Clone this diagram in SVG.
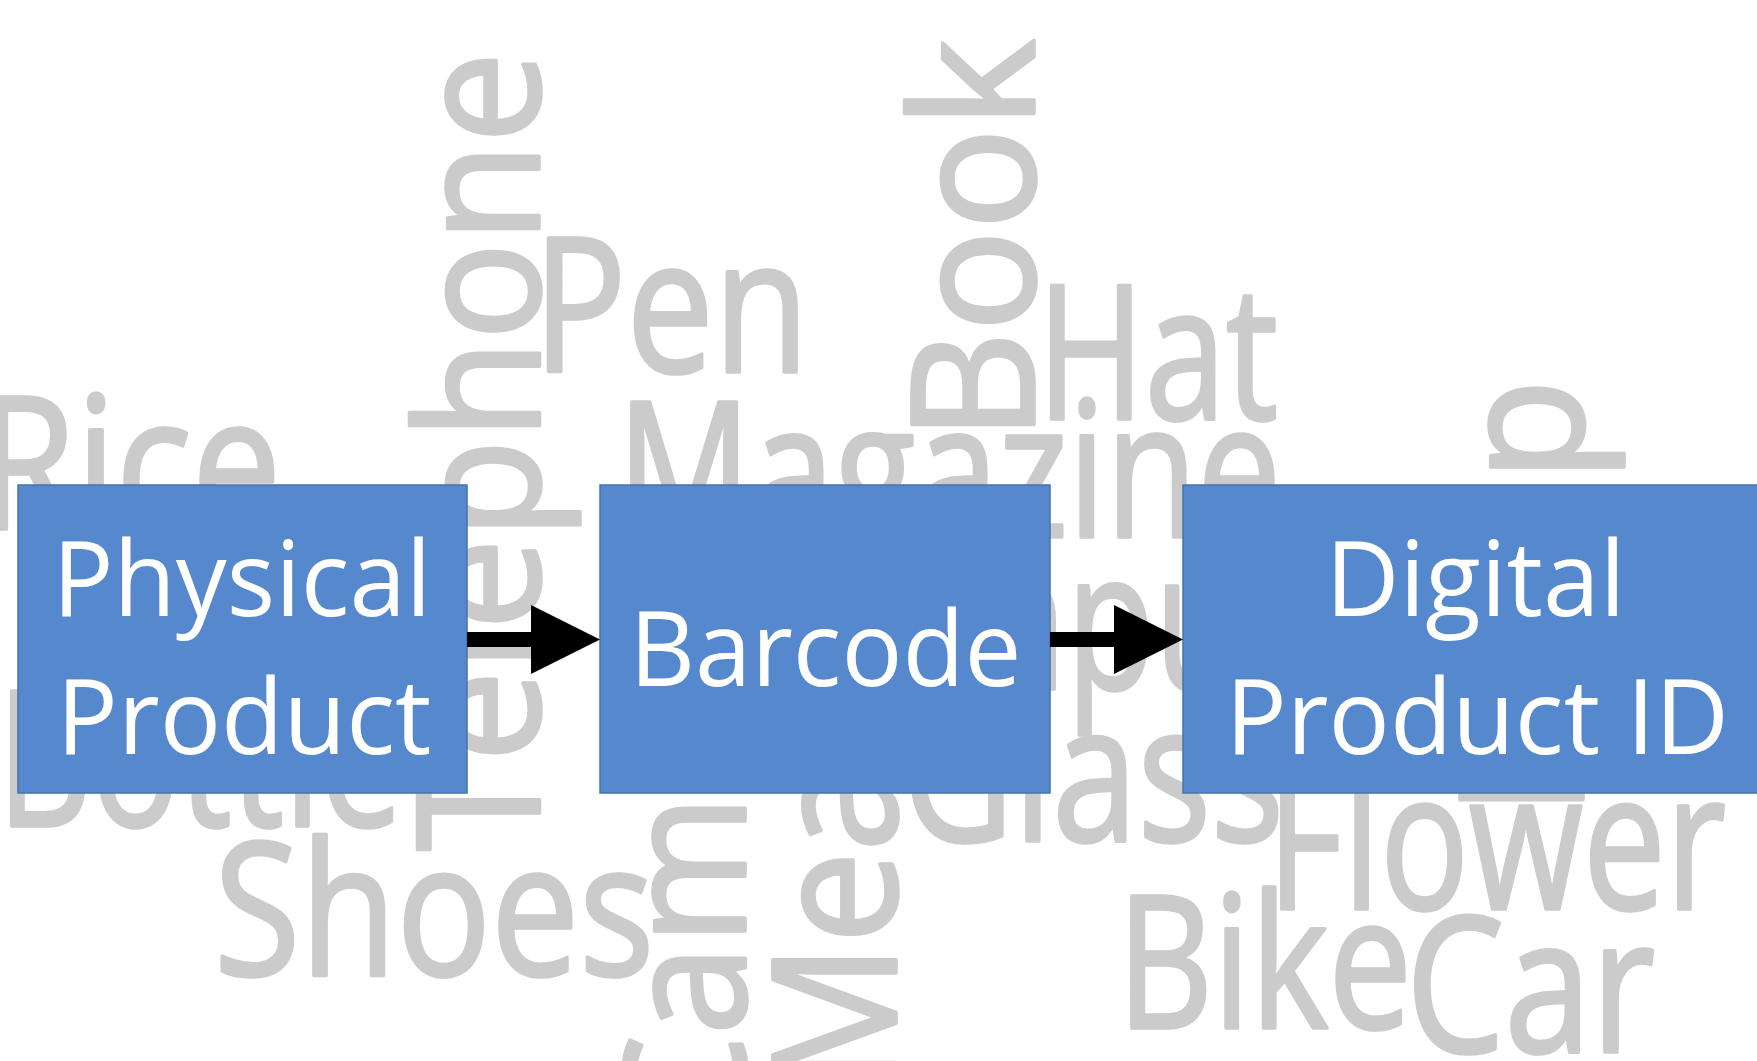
<svg xmlns="http://www.w3.org/2000/svg" width="1757" height="1061" viewBox="0 0 1757 1061">
<style>
.w{fill:#cbcbcb;stroke:#cbcbcb;stroke-width:3.5;stroke-linejoin:round;font-family:'Open Sans','Noto Sans','DejaVu Sans',sans-serif;}
.box{fill:#5588cc;stroke:#4673aa;stroke-width:1.5;}
.lbl{fill:#ffffff;font-family:'Open Sans','Noto Sans','DejaVu Sans',sans-serif;font-size:104px;}
.conn{stroke:#000;stroke-width:15;fill:none;marker-end:url(#ah);}
</style>
<defs>
<marker id="ah" markerUnits="userSpaceOnUse" markerWidth="69" markerHeight="69" viewBox="0 0 69 69" refX="0" refY="34.5" orient="auto">
<path d="M0,0 L69,34.5 L0,69 z" fill="#000"/>
</marker>
</defs>
<rect x="0" y="0" width="1757" height="1061" fill="#fff"/>
<g id="wordcloud">
<text class="w" x="-22" y="529" font-size="186" textLength="303" lengthAdjust="spacingAndGlyphs">Rice</text>
<text class="w" x="-3" y="826" font-size="188" textLength="406" lengthAdjust="spacingAndGlyphs">Bottle</text>
<text class="w" x="214" y="975" font-size="186" textLength="440" lengthAdjust="spacingAndGlyphs">Shoes</text>
<text class="w" x="533" y="372" font-size="187" textLength="276" lengthAdjust="spacingAndGlyphs">Pen</text>
<text class="w" x="617" y="537" font-size="188" textLength="664" lengthAdjust="spacingAndGlyphs">Magazine</text>
<text class="w" x="1037" y="419" font-size="187" textLength="241" lengthAdjust="spacingAndGlyphs">Hat</text>
<text class="w" x="755" y="689" font-size="192" textLength="680" lengthAdjust="spacingAndGlyphs">Computer</text>
<text class="w" x="902" y="841" font-size="192" textLength="382" lengthAdjust="spacingAndGlyphs">Glass</text>
<text class="w" x="1267" y="909" font-size="192" textLength="459" lengthAdjust="spacingAndGlyphs">Flower</text>
<text class="w" x="1117" y="1028" font-size="186" textLength="295" lengthAdjust="spacingAndGlyphs">Bike</text>
<text class="w" x="1406" y="1052" font-size="188" textLength="249" lengthAdjust="spacingAndGlyphs">Car</text>
<text class="w" transform="translate(539 851) rotate(-90)" font-size="170" textLength="799" lengthAdjust="spacingAndGlyphs">Telephone</text>
<text class="w" transform="translate(1034 441) rotate(-90)" font-size="170" textLength="402" lengthAdjust="spacingAndGlyphs">Book</text>
<text class="w" transform="translate(1583 816) rotate(-90)" font-size="172" textLength="437" lengthAdjust="spacingAndGlyphs">Lamp</text>
<text class="w" transform="translate(896 1091) rotate(-90)" font-size="172" textLength="389" lengthAdjust="spacingAndGlyphs">Meat</text>
<text class="w" transform="translate(745 1137) rotate(-90)" font-size="168" textLength="589" lengthAdjust="spacingAndGlyphs">Camera</text>
</g>
<g id="node-physical">
<rect class="box" x="18" y="485" width="449" height="308"/>
<text class="lbl" x="52.5" y="616" textLength="379" lengthAdjust="spacingAndGlyphs">Physical</text>
<text class="lbl" x="56.5" y="754" textLength="375" lengthAdjust="spacingAndGlyphs">Product</text>
</g>
<g id="node-barcode">
<rect class="box" x="600" y="485" width="450" height="308"/>
<text class="lbl" x="629.5" y="686" textLength="392" lengthAdjust="spacingAndGlyphs">Barcode</text>
</g>
<g id="node-digital">
<rect class="box" x="1183" y="485" width="600" height="308"/>
<text class="lbl" x="1325.5" y="616" textLength="300" lengthAdjust="spacingAndGlyphs">Digital</text>
<text class="lbl" x="1225.5" y="754" textLength="503.5" lengthAdjust="spacingAndGlyphs">Product ID</text>
</g>
<g id="connectors">
<line class="conn" x1="467" y1="639.5" x2="531" y2="639.5"/>
<line class="conn" x1="1050" y1="639.5" x2="1114" y2="639.5"/>
</g>
</svg>
